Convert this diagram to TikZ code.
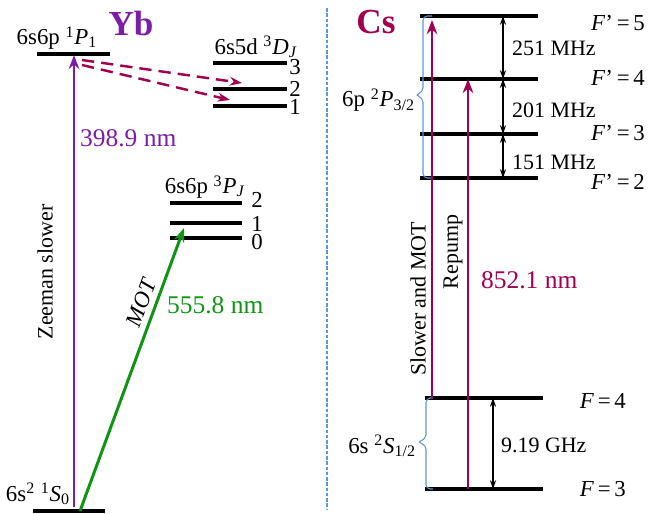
\documentclass[tikz,border=0pt]{standalone}
\usepackage{fontspec}
\setmainfont{Liberation Serif}
\usepackage{xcolor}
\usetikzlibrary{positioning, arrows.meta}

\definecolor{ybpurple}{RGB}{125,28,168}
\definecolor{cscrimson}{RGB}{160,0,78}
\definecolor{motgreen}{RGB}{15,148,20}
\definecolor{bracketblue}{RGB}{95,150,215}

\begin{document}
\begin{tikzpicture}[x=0.02cm, y=-0.02cm,
    level/.style={line width=1.8pt},
    txt/.style={font=\fontsize{13}{15}\selectfont, inner sep=1pt},
    small/.style={font=\fontsize{12.5}{15}\selectfont, inner sep=1pt},
    big/.style={font=\fontsize{14.5}{17}\selectfont, inner sep=1pt},
    atom/.style={font=\fontsize{20}{22}\selectfont\bfseries, inner sep=0pt},
    beam/.style={line width=1.7pt, -{Stealth[length=8pt, width=6pt]}},
    decay/.style={cscrimson, line width=1.4pt, dash pattern=on 7pt off 4pt, -{Stealth[length=7pt, width=5pt]}},
    gap/.style={line width=0.6pt, {Stealth[length=5pt, width=3.5pt]}-{Stealth[length=5pt, width=3.5pt]}},
    bracket/.style={bracketblue, line width=0.6pt, rounded corners=2.5pt}]
    \useasboundingbox (0,0) rectangle (650,514);

    % Separator
    \draw[bracketblue, dash pattern=on 2pt off 1pt, line width=0.6pt] (327,8) -- (327,510);

    % Yb levels
    \draw[level] (33,511) -- (105,511);
    \draw[level] (37,54) -- (110,54);
    \foreach \yy/\jj/\ly in {63/3/67, 89/2/89, 106/1/107}{
      \draw[level] (213,\yy) -- (287,\yy);
      \node[txt] (D\jj) at (295,\ly) {\jj};
    }
    \foreach \yy/\jj/\ly in {203/2/200, 223/1/224, 238/0/242}{
      \draw[level] (170,\yy) -- (242,\yy);
      \node[txt] (P\jj) at (257,\ly) {\jj};
    }

    % Yb labels
    \node[atom, ybpurple] (yb) at (131,23) {Yb};
    \node[txt] (P1lbl) at (57,38) {6s6p \textsuperscript{1}\textit{P}\textsubscript{1}};
    \node[txt] (S0lbl) at (38,494) {6s\textsuperscript{2} \textsuperscript{1}\textit{S}\textsubscript{0}};
    \node[txt] (DJlbl) at (256,47) {6s5d \textsuperscript{3}\textit{D}\textsubscript{\textit{J}}};
    \node[txt] (PJlbl) at (205,187) {6s6p \textsuperscript{3}\textit{P}\textsubscript{\textit{J}}};

    % Zeeman slower
    \coordinate (zsA) at (74,507);
    \coordinate (zsB) at (74,55);
    \draw[beam, ybpurple] (zsA) -- (zsB);
    \node[big, ybpurple, anchor=west] (zsnm) at (78,138) {398.9 nm};
    \node[small, rotate=90] (zslbl) at (45,272) {Zeeman slower};

    % MOT
    \coordinate (motA) at (80,511);
    \coordinate (motB) at (184,228);
    \draw[beam, motgreen] (motA) -- node[pos=0.72, sloped, above=2pt, txt, text=black] (motlbl) {\textit{MOT}} (motB);
    \node[big, motgreen, anchor=west] (motnm) at (165,305) {555.8 nm};

    % Decay to 3D
    \coordinate (decA) at (82,60);
    \coordinate (decB) at (242,83);
    \coordinate (decC) at (82,65);
    \coordinate (decD) at (230,100);
    \draw[decay] (decA) -- (decB);
    \draw[decay] (decC) -- (decD);

    % Cs levels
    \foreach \yy/\ff/\ly in {16/5/23, 79/4/78, 134/3/133, 178/2/182}{
      \draw[level] (420,\yy) -- (538,\yy);
      \node[txt, anchor=east] (Fp\ff) at (647,\ly) {\textit{F}’\,=\,\ff};
    }
    \draw[level] (425,398) -- (543,398);
    \draw[level] (425,489) -- (543,489);
    \node[txt, anchor=east] (F4) at (628,401) {\textit{F}\,=\,4};
    \node[txt, anchor=east] (F3) at (628,489) {\textit{F}\,=\,3};

    % Cs labels
    \node[atom, cscrimson] (cs) at (376,22) {Cs};
    \draw[bracket] (432,16) -- (423,16) -- (423,92) -- (415,95) -- (423,98) -- (423,178) -- (432,178);
    \draw[bracket] (433,398) -- (426,398) -- (426,439) -- (417,442) -- (426,445) -- (426,489) -- (433,489);
    \node[txt, anchor=east] (P32lbl) at (417,100) {6p \textsuperscript{2}\textit{P}\textsubscript{3/2}};
    \node[txt, anchor=east] (S12lbl) at (418,446) {6s \textsuperscript{2}\textit{S}\textsubscript{1/2}};

    % Hyperfine splittings
    \coordinate (g5) at (503,16);
    \coordinate (g4) at (503,79);
    \coordinate (g3) at (503,134);
    \coordinate (g2) at (503,178);
    \draw[gap] (g5) -- (g4);
    \draw[gap] (g4) -- (g3);
    \draw[gap] (g3) -- (g2);
    \node[small, anchor=west] (f54) at (510,48) {251 MHz};
    \node[small, anchor=west] (f43) at (510,110) {201 MHz};
    \node[small, anchor=west] (f32) at (510,162) {151 MHz};
    \coordinate (gF4) at (493,398);
    \coordinate (gF3) at (493,489);
    \draw[gap] (gF4) -- (gF3);
    \node[small, anchor=west] (f43g) at (499,445) {9.19 GHz};

    % Cs beams
    \coordinate (slA) at (432,398);
    \coordinate (slB) at (432,20);
    \coordinate (rpA) at (468,489);
    \coordinate (rpB) at (468,79);
    \draw[beam, cscrimson] (slA) -- (slB);
    \draw[beam, cscrimson] (rpA) -- (rpB);
    \node[small, rotate=90] (sllbl) at (418,299) {Slower and MOT};
    \node[small, rotate=90] (rplbl) at (453,252) {Repump};
    \node[big, cscrimson, anchor=west] (csnm) at (479,280) {852.1 nm};
\end{tikzpicture}
\end{document}
